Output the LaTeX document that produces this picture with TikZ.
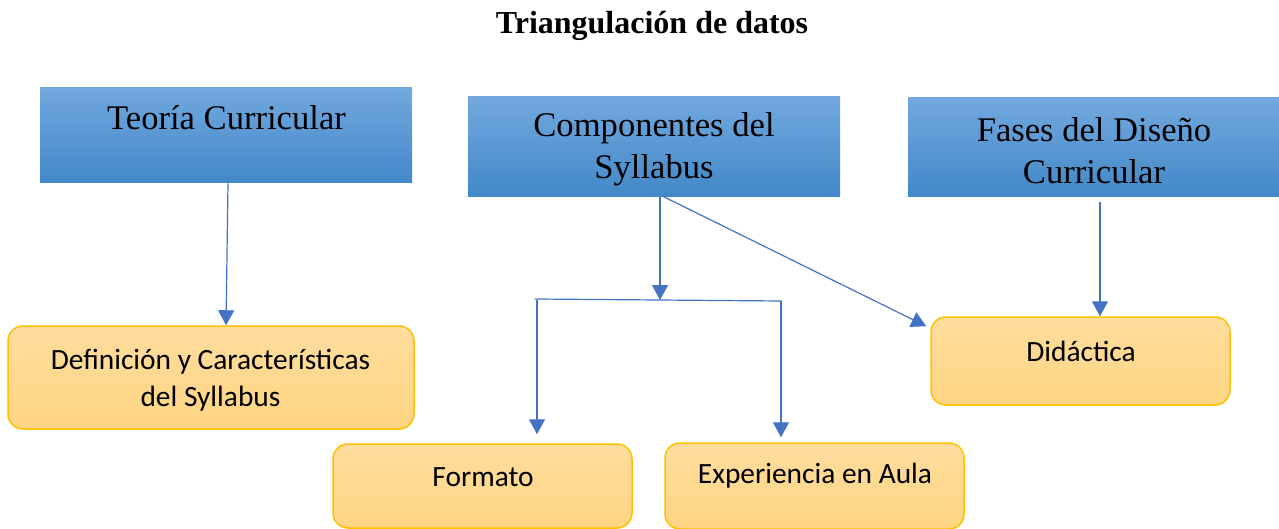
\documentclass[tikz,border=0pt]{standalone}
\usepackage{fontspec}
\setmainfont{Liberation Serif}
\newfontfamily\carlito{Carlito}
\usepackage{tikz}
\usetikzlibrary{positioning,calc,arrows.meta}
\definecolor{blueTop}{RGB}{114,168,222}
\definecolor{blueBot}{RGB}{66,136,200}
\definecolor{orangeTop}{RGB}{255,221,158}
\definecolor{orangeBot}{RGB}{255,213,130}
\definecolor{goldLine}{RGB}{255,192,0}
\definecolor{linkBlue}{RGB}{68,114,196}

\begin{document}
\begin{tikzpicture}[x=0.5pt,y=-0.5pt,
	bluebox/.style={rectangle, inner sep=0pt, top color=blueTop, bottom color=blueBot, draw=none},
	orangebox/.style={rectangle, inner sep=0pt, rounded corners=7.5pt, top color=orangeTop, bottom color=orangeBot, draw=goldLine, line width=0.75pt},
	bluetxt/.style={align=center, inner sep=0pt, font=\fontsize{17.3}{21}\selectfont},
	orangetxt/.style={align=center, inner sep=0pt, font=\carlito\fontsize{14.7}{18.5}\selectfont},
	bar/.style={draw=linkBlue, line width=0.6pt},
	link/.style={bar, -{Triangle[width=8pt,length=7.5pt]}}]
	\useasboundingbox (0,0) rectangle (1279,529);
	
	\node[font=\bfseries\fontsize{16}{19}\selectfont] (title) at (652,26) {Triangulación de datos};
	
	% upper boxes
	\node[bluebox, minimum width=186pt, minimum height=47.5pt] (teoria) at (226,135.5) {};
	\node[bluebox, minimum width=186pt, minimum height=50pt] (comp) at (654,147) {};
	\node[bluebox, minimum width=185.5pt, minimum height=49.5pt] (fases) at (1093.5,147.5) {};
	\node[bluetxt] (teoriaT) at (226.5,118) {Teoría Curricular};
	\node[bluetxt] (compT) at (654,149) {Componentes del\\Syllabus};
	\node[bluetxt] (fasesT) at (1094,151) {Fases del Diseño\\Curricular};
	
	% lower boxes
	\node[orangebox, minimum width=203pt, minimum height=51.5pt] (defin) at (211,377.5) {};
	\node[orangebox, minimum width=149.5pt, minimum height=42pt] (formato) at (482.5,486) {};
	\node[orangebox, minimum width=149.5pt, minimum height=43pt] (exper) at (814.5,486) {};
	\node[orangebox, minimum width=149.5pt, minimum height=44pt] (didac) at (1080.5,361) {};
	\node[orangetxt] (definT) at (210.5,380) {Definición y Características\\del Syllabus};
	\node[orangetxt] (formatoT) at (483,477) {Formato};
	\node[orangetxt] (experT) at (815,476) {Experiencia en Aula};
	\node[orangetxt] (didacT) at (1081,351) {Didáctica};
	
	% split under the middle box
	\coordinate (split) at (660,300);
	\coordinate (barL) at (535,299);
	\coordinate (barR) at (782,301);
	\coordinate (fL) at (537,300);
	\coordinate (fR) at (781,301);
	
	\draw[link] ($(teoria.south)+(2,0)$) -- ($(teoria.south |- defin.north)+(0,0)$);
	\draw[link] ($(comp.south)+(6,0)$) -- (split);
	\draw[bar] (barL) -- (barR);
	\draw[link] (fL) -- ($(fL |- formato.north)+(0,-9)$);
	\draw[link] (fR) -- ($(fR |- exper.north)+(0,-5)$);
	\draw[link] ($(comp.south)+(9,-1)$) -- ($(didac.north west)+(-4,10)$);
	\draw[link] ($(fases.south)+(6.5,5)$) -- ($(fases.south |- didac.north)+(6.5,0)$);
\end{tikzpicture}
\end{document}
